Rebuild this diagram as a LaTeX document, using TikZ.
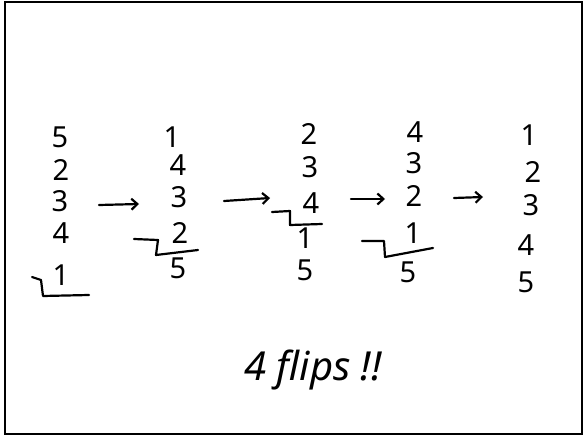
\documentclass[tikz,border=0pt]{standalone}
\usepackage{fontspec}
\setmainfont{Noto Sans}
\usetikzlibrary{arrows.meta}
\begin{document}
\begin{tikzpicture}[x=1pt,y=-1pt,
  dig/.style={inner sep=0pt,font=\fontsize{29}{29}\selectfont\addfontfeatures{Numbers=Lining}},
  ink/.style={line width=2.2pt,line cap=round,line join=round},
  arr/.style={ink,-{Straight Barb[length=6pt,width=11pt]}},
  flipmark/.style={ink}]
\useasboundingbox (0,0) rectangle (584,436);
\draw[line width=2.2pt] (5,2) rectangle (582,434);
% column 1
\node[dig] (a1) at (60,137) {5};
\node[dig] (a2) at (61,170) {2};
\node[dig] (a3) at (60,201) {3};
\node[dig] (a4) at (61,233) {4};
\node[dig] (a5) at (61,275) {1};
% column 2
\node[dig] (b1) at (172,137) {1};
\node[dig] (b2) at (178,165) {4};
\node[dig] (b3) at (179,197) {3};
\node[dig] (b4) at (180,233) {2};
\node[dig] (b5) at (178,268) {5};
% column 3
\node[dig] (c1) at (309,134) {2};
\node[dig] (c2) at (310,167) {3};
\node[dig] (c3) at (311,203) {4};
\node[dig] (c4) at (305,238) {1};
\node[dig] (c5) at (305,270) {5};
% column 4
\node[dig] (d1) at (415,132) {4};
\node[dig] (d2) at (414,163) {3};
\node[dig] (d3) at (414,196) {2};
\node[dig] (d4) at (413,233) {1};
\node[dig] (d5) at (408,272) {5};
% column 5
\node[dig] (e1) at (529,135) {1};
\node[dig] (e2) at (533,172) {2};
\node[dig] (e3) at (531,205) {3};
\node[dig] (e4) at (526,245) {4};
\node[dig] (e5) at (526,282) {5};
% arrows
\coordinate (p1s) at (99,205); \coordinate (p1e) at (139,204);
\coordinate (p2s) at (224,201); \coordinate (p2e) at (270,198);
\coordinate (p3s) at (351,199); \coordinate (p3e) at (385,199);
\coordinate (p4s) at (454,198); \coordinate (p4e) at (483,197);
\draw[arr] (p1s) -- (p1e);
\draw[arr] (p2s) -- (p2e);
\draw[arr] (p3s) -- (p3e);
\draw[arr] (p4s) -- (p4e);
% flip marks
\coordinate (f1) at (32,277);
\draw[flipmark] (f1) -- (41,280) -- (43,296) -- (89,295);
\coordinate (f2) at (134,239);
\draw[flipmark] (f2) -- (158,240) -- (156,255) -- (198,250);
\coordinate (f3) at (272,212);
\draw[flipmark] (f3) -- (290,211) -- (290,225) -- (322,224);
\coordinate (f4) at (362,241);
\draw[flipmark] (f4) -- (384,241) -- (385,257) -- (433,248);
% caption
\node[inner sep=0pt,font=\fontsize{40}{40}\selectfont\itshape] (cap) at (313,370) {4 flips !!};
\end{tikzpicture}
\end{document}
